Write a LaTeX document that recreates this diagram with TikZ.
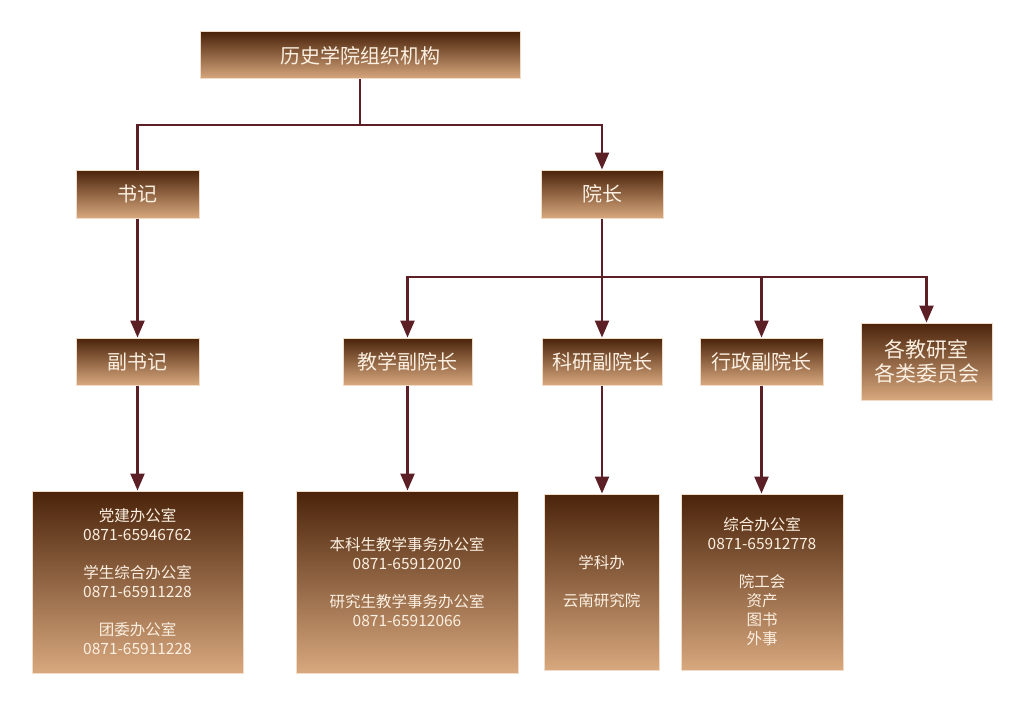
\documentclass[tikz,border=0pt]{standalone}
\usepackage{fontspec}
\setmainfont{Noto Sans CJK SC}
\usetikzlibrary{arrows.meta}
\definecolor{btop}{HTML}{4A230A}
\definecolor{bbot}{HTML}{D8A87E}
\definecolor{bedge}{HTML}{F1DCC8}
\definecolor{btext}{HTML}{FCF0E2}
\definecolor{conn}{HTML}{5C1F26}
\tikzset{
  box/.style={rectangle, top color=btop, bottom color=bbot, draw=bedge, line width=1pt,
    text=btext, inner sep=0pt, align=center},
  big/.style={box, font=\fontsize{20}{23}\selectfont},
  small/.style={box, font=\fontsize{15.5}{19}\selectfont},
  line/.style={draw=conn, line width=2.4pt},
  arr/.style={line, -{Triangle[width=14pt,length=17pt]}}
}
\begin{document}
\begin{tikzpicture}[x=1pt,y=-1pt]
\fill[white] (0,0) rectangle (1024,706);
\useasboundingbox (0,0) rectangle (1024,706);
\node[big, minimum width=320pt, minimum height=47pt] (title) at (360,55.5) {历史学院组织机构};
\node[big, minimum width=123pt, minimum height=48pt] (sj) at (137.5,194) {书记};
\node[big, minimum width=122pt, minimum height=48pt] (yz) at (602,194) {院长};
\node[big, minimum width=123pt, minimum height=47pt] (fsj) at (137.5,361.5) {副书记};
\node[big, minimum width=129pt, minimum height=47pt] (jx) at (407.5,361.5) {教学副院长};
\node[big, minimum width=120pt, minimum height=47pt] (ky) at (602,361.5) {科研副院长};
\node[big, minimum width=123pt, minimum height=47pt] (xz) at (761.5,361.5) {行政副院长};
\node[big, font=\fontsize{21}{24}\selectfont, minimum width=131pt, minimum height=77pt] (jy) at (926.5,361.5) {各教研室\\各类委员会};
\node[small, minimum width=211pt, minimum height=182pt] (b1) at (137.5,582) {党建办公室\\0871-65946762\\[19pt]学生综合办公室\\0871-65911228\\[19pt]团委办公室\\0871-65911228};
\node[small, minimum width=222pt, minimum height=182pt] (b2) at (407,582) {本科生教学事务办公室\\0871-65912020\\[19pt]研究生教学事务办公室\\0871-65912066};
\node[small, minimum width=115pt, minimum height=176pt] (b3) at (601.5,582) {学科办\\[19pt]云南研究院};
\node[small, minimum width=162pt, minimum height=176pt] (b4) at (762,582) {综合办公室\\0871-65912778\\[19pt]院工会\\资产\\图书\\外事};
\coordinate (j1) at (360,125);
\coordinate (j2) at (602,277);
\draw[line] (title.south) -- (j1);
\draw[line] (j1) -| (sj.north);
\draw[arr] (j1) -| (yz.north);
\draw[line] (yz.south) -- (j2);
\draw[arr] (j2) -| (jx.north);
\draw[arr] (j2) -- (ky.north);
\draw[arr] (j2) -| (xz.north);
\draw[arr] (j2) -| (jy.north);
\draw[arr] (sj.south) -- (fsj.north);
\draw[arr] (fsj.south) -- (b1.north);
\draw[arr] (jx.south) -- (jx.south |- b2.north);
\draw[arr] (ky.south) -- (ky.south |- b3.north);
\draw[arr] (xz.south) -- (xz.south |- b4.north);
\end{tikzpicture}
\end{document}
